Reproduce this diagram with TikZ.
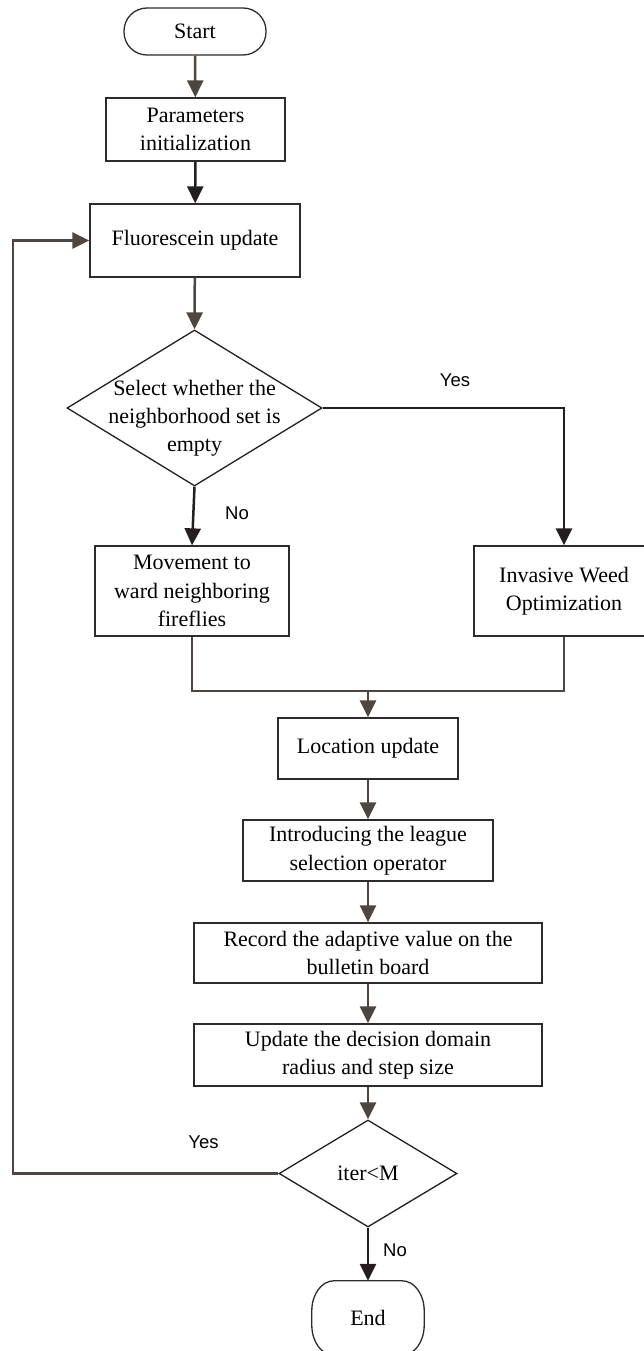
\documentclass[tikz,border=0pt]{standalone}
\usepackage{fontspec}
\setmainfont{Liberation Serif}
\newfontfamily\labfont{Liberation Sans}
\usetikzlibrary{arrows.meta,shapes.geometric}
\definecolor{brn}{RGB}{78,71,65}
\definecolor{blk}{RGB}{35,31,32}
\definecolor{bord}{RGB}{45,43,43}
\tikzset{
  box/.style={draw=bord,line width=1.3pt,rectangle,inner sep=0pt,align=center,
    font=\fontsize{22}{28.5}\selectfont},
  dia/.style={draw=blk,line width=1.3pt,diamond,inner sep=0pt},
  txt/.style={align=center,inner sep=0pt,font=\fontsize{22}{28}\selectfont},
  lab/.style={inner sep=0pt,font=\labfont\fontsize{18.5}{22}\selectfont},
  bline/.style={draw=brn,line width=2.5pt},
  kline/.style={draw=blk,line width=2.5pt},
  barr/.style={bline,-{Triangle[length=17pt,width=16pt]}},
  karr/.style={kline,-{Triangle[length=17pt,width=16pt]}},
}
\begin{document}
\begin{tikzpicture}[x=1pt,y=1pt]
\useasboundingbox (0,0) rectangle (643,-1351);
% nodes
\node[box,rounded corners=23pt,minimum width=142pt,minimum height=47pt] (st) at (195,-31.5) {Start};
\node[box,minimum width=179pt,minimum height=63pt] (pi) at (195.5,-129.5) {Parameters\\initialization};
\node[box,minimum width=210pt,minimum height=73pt] (fl) at (195,-240.5) {Fluorescein update};
\node[dia,minimum width=255pt,minimum height=156pt] (d1) at (194.5,-408) {};
\node[txt] (d1t) at (194.5,-418) {Select whether the\\neighborhood set is\\empty};
\node[box,minimum width=194pt,minimum height=90pt] (mv) at (192,-591) {Movement to\\ward neighboring\\fireflies};
\node[box,minimum width=180pt,minimum height=90pt] (iw) at (564,-591) {Invasive Weed\\Optimization};
\node[box,minimum width=180pt,minimum height=61pt] (lu) at (368,-748.5) {Location update};
\node[box,minimum width=250pt,minimum height=61pt] (ls) at (368,-850.5) {Introducing the league\\selection operator};
\node[box,minimum width=348pt,minimum height=60pt] (rv) at (368,-953) {Record the adaptive value on the\\bulletin board};
\node[box,minimum width=348pt,minimum height=62pt] (ud) at (368,-1055) {Update the decision domain\\radius and step size};
\node[dia,minimum width=178pt,minimum height=107pt] (d2) at (368,-1173.5) {};
\node[txt] (d2t) at (368,-1173.5) {iter<M};
\node[txt,minimum width=112pt,minimum height=74pt] (en) at (368,-1318) {End};
\draw[draw=bord,line width=1.3pt]
  ([xshift=22pt]en.north west) -- ([xshift=-22pt]en.north east)
  arc[start angle=90,end angle=0,x radius=22pt,y radius=30pt]
  -- ([yshift=30pt]en.south east)
  arc[start angle=0,end angle=-90,x radius=22pt,y radius=30pt]
  -- ([xshift=22pt]en.south west)
  arc[start angle=270,end angle=180,x radius=22pt,y radius=30pt]
  -- ([yshift=-30pt]en.north west)
  arc[start angle=180,end angle=90,x radius=22pt,y radius=30pt] -- cycle;
% labels
\node[lab] (y1) at (455,-380) {Yes};
\node[lab] (n1) at (237,-513) {No};
\node[lab] (y2) at (203.5,-1142) {Yes};
\node[lab] (n2) at (395,-1250) {No};
% connectors
\coordinate (mg) at (368,-691);
\coordinate (lp) at (13,0);
\draw[barr] (st) -- (pi);
\draw[karr] (pi) -- (fl);
\draw[barr] (fl) -- (d1.north);
\draw[karr] (d1.south) -- (mv.north);
\draw[karr] (d1.east) -| (iw.north);
\draw[bline] (mv.south) |- (mg) -| (iw.south);
\draw[barr] (mg) -- (lu.north);
\draw[barr] (lu) -- (ls);
\draw[barr] (ls) -- (rv);
\draw[barr] (rv) -- (ud);
\draw[barr] (ud) -- (d2.north);
\draw[karr] (d2.south) -- (en.north);
\draw[barr] (d2.west) -- (d2.west -| lp) -- (fl.west -| lp) -- (fl.west);
\end{tikzpicture}
\end{document}
